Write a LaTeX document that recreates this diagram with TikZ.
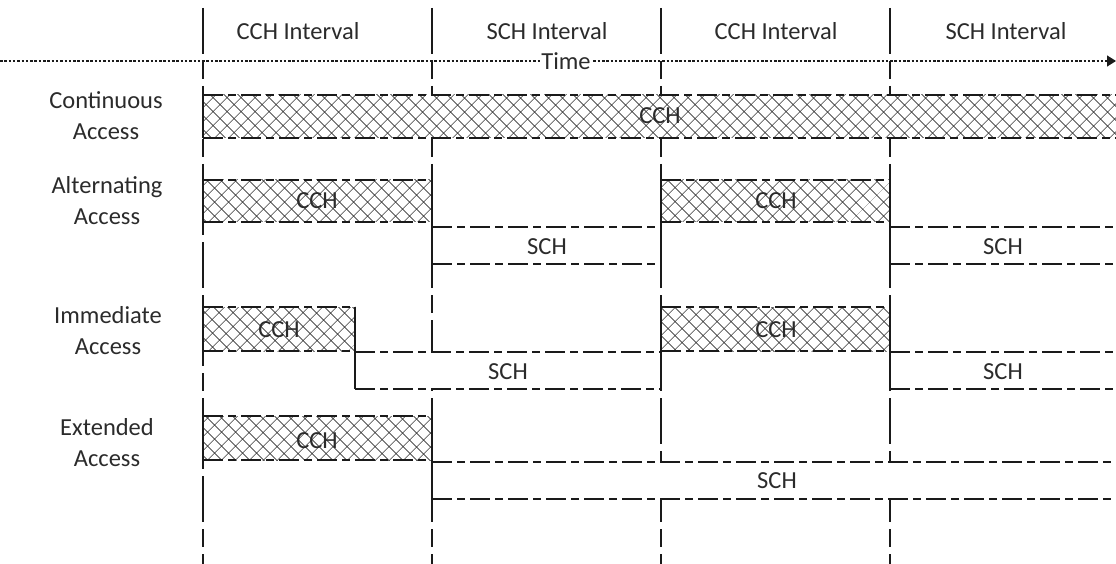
\documentclass[tikz,border=0pt]{standalone}
\usepackage{fontspec}
\setmainfont{Carlito}
\usetikzlibrary{patterns.meta,arrows.meta}
\definecolor{ink}{HTML}{1A1A1A}
\definecolor{txt}{HTML}{2B2B2B}
\tikzset{
  gridline/.style={ink, line width=1.4pt, dash pattern=on 46pt off 7pt on 18pt off 7pt},
  chanline/.style={ink, line width=1.4pt, dash pattern=on 20pt off 5pt on 8pt off 5pt},
  edgeline/.style={ink, line width=1.4pt},
  hatchfill/.style={fill=white, postaction={pattern={Hatch[angle=45,distance=10.5pt,line width=0.75pt]}, pattern color=ink!85}},
  timeaxis/.style={ink, line width=1.2pt, dash pattern=on 2.5pt off 1.8pt, -{Triangle[length=9pt,width=11pt]}},
  lbl/.style={text=txt, inner sep=0pt, anchor=base},
  rowlbl/.style={text=txt, inner sep=0pt, align=center, anchor=center},
}
% hatched CCH slot: x1, y1, x2, y2
\newcommand\cchslot[4]{%
  \path[hatchfill] (#1,#2) rectangle (#3,#4);
  \draw[chanline] (#1,#2) -- (#3,#2);
  \draw[chanline] (#1,#4) -- (#3,#4);
}
% open SCH band: x1, y1, x2, y2
\newcommand\schband[4]{%
  \fill[white] (#1,#2) rectangle (#3,#4);
  \draw[chanline] (#1,#2) -- (#3,#2);
  \draw[chanline] (#1,#4) -- (#3,#4);
}
\begin{document}
\begin{tikzpicture}[x=1pt, y=-1pt, font=\fontsize{24.5}{31}\selectfont]
\useasboundingbox (0,0) rectangle (1116,564);

% interval boundaries
\foreach \x/\n in {203/a,432/b,661/c,890/d} {
  \coordinate (\n top) at (\x,8);
  \coordinate (\n bot) at (\x,564);
  \draw[gridline] (\n top) -- (\n bot);
}

% interval headings
\node[lbl] (h1) at (298,40) {CCH Interval};
\node[lbl] (h2) at (547,40) {SCH Interval};
\node[lbl] (h3) at (776,40) {CCH Interval};
\node[lbl] (h4) at (1006,40) {SCH Interval};

% time axis
\coordinate (t0) at (0,61);
\coordinate (t1) at (1116,61);
\draw[timeaxis] (t0) -- (t1);
\node[text=txt, fill=white, inner xsep=1pt, inner ysep=2pt] (time) at (566,61) {Time};

% row labels
\node[rowlbl] (r1) at (106,116) {Continuous\\Access};
\node[rowlbl] (r2) at (107,201) {Alternating\\Access};
\node[rowlbl] (r3) at (108,331) {Immediate\\Access};
\node[rowlbl] (r4) at (107,443) {Extended\\Access};

% continuous access
\path[hatchfill] (203,95) rectangle (1116,138);
\draw[chanline] (203,95) -- (1116,95);
\draw[chanline] (203,138) -- (1116,138);
\draw[edgeline] (203,95) -- (203,138);
\node[lbl] (c1) at (660,124) {CCH};

% alternating access
\cchslot{203}{180}{432}{222}
\cchslot{661}{180}{890}{222}
\schband{432}{227}{661}{264}
\schband{890}{227}{1116}{264}
\draw[edgeline] (203,180) -- (203,222);
\draw[edgeline] (432,180) -- (432,264);
\draw[edgeline] (661,180) -- (661,264);
\draw[edgeline] (890,180) -- (890,264);
\node[lbl] (a1) at (317,208) {CCH};
\node[lbl] (a2) at (776,208) {CCH};
\node[lbl] (a3) at (547,254) {SCH};
\node[lbl] (a4) at (1003,254) {SCH};

% immediate access
\cchslot{203}{307}{355}{351}
\cchslot{661}{307}{890}{351}
\schband{355}{352}{661}{389}
\schband{890}{352}{1116}{389}
\draw[edgeline] (203,307) -- (203,351);
\draw[edgeline] (355,307) -- (355,389);
\draw[edgeline] (661,307) -- (661,389);
\draw[edgeline] (890,307) -- (890,389);
\node[lbl] (i1) at (279,337) {CCH};
\node[lbl] (i2) at (776,337) {CCH};
\node[lbl] (i3) at (508,379) {SCH};
\node[lbl] (i4) at (1003,379) {SCH};

% extended access
\cchslot{203}{416}{432}{460}
\schband{432}{462}{1116}{499}
\draw[edgeline] (203,416) -- (203,460);
\draw[edgeline] (432,416) -- (432,499);
\node[lbl] (e1) at (317,448) {CCH};
\node[lbl] (e2) at (777,488) {SCH};
\end{tikzpicture}
\end{document}
